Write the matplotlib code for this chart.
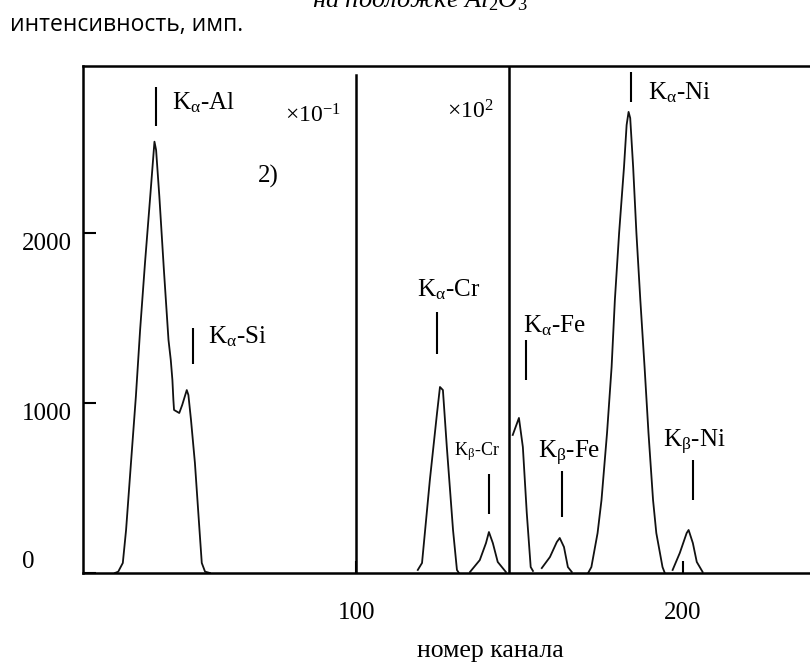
import matplotlib
matplotlib.use('Agg')
from matplotlib import pyplot as plt

plt.rcParams['font.family'] = ['Liberation Serif', 'DejaVu Serif']
plt.rcParams['mathtext.fontset'] = 'custom'
plt.rcParams['mathtext.rm'] = 'Liberation Serif'
plt.rcParams['mathtext.it'] = 'Liberation Serif:italic'

# spectrum (channel, counts in plotted units)
al_si_ch = [26.0, 27.0, 28.4, 29.4, 30.9, 32.4, 33.7, 35.2, 36.8, 38.1,
            38.6, 39.6, 41.0, 42.4, 43.1, 43.6, 43.9, 44.1, 45.7, 46.6,
            48.0, 48.5, 49.3, 50.5, 51.9, 52.6, 53.6, 55.1]
al_si_val = [0, 8, 59, 253, 647, 1037, 1429, 1824, 2214, 2537,
             2488, 2214, 1780, 1371, 1253, 1135, 1018, 959, 941, 988,
             1076, 1047, 900, 647, 253, 59, 8, 0]

cr_a_ch = [118.8, 120.1, 122.5, 124.7, 125.6, 126.5, 127.7, 129.6, 130.8, 131.4]
cr_a_val = [18, 59, 547, 941, 1094, 1076, 741, 253, 18, 0]

cr_b_ch = [134.8, 137.8, 139.7, 140.6, 141.8, 143.3, 145.8]
cr_b_val = [6, 76, 176, 241, 176, 65, 6]

fe_a_ch = [147.9, 149.8, 151.0, 152.2, 153.4, 154.1]
fe_a_val = [812, 912, 741, 353, 35, 12]

fe_b_ch = [156.8, 159.3, 161.4, 162.3, 163.6, 164.8, 166.0]
fe_b_val = [29, 94, 182, 206, 153, 35, 6]

ni_a_ch = [171.0, 172.0, 173.9, 175.1, 176.8, 178.2, 179.2, 180.5, 182.0,
           182.8, 183.4, 183.9, 184.8, 185.8, 187.0, 188.3, 189.5, 190.9,
           191.9, 193.8, 194.5]
ni_a_val = [0, 35, 235, 429, 824, 1212, 1606, 2000, 2388,
            2635, 2712, 2676, 2388, 2000, 1606, 1212, 824, 429,
            235, 35, 0]

ni_b_ch = [196.9, 199.1, 201.2, 201.8, 203.1, 204.3, 206.1]
ni_b_val = [18, 118, 235, 253, 176, 65, 6]

segments = [(al_si_ch, al_si_val), (cr_a_ch, cr_a_val), (cr_b_ch, cr_b_val),
            (fe_a_ch, fe_a_val), (fe_b_ch, fe_b_val), (ni_a_ch, ni_a_val),
            (ni_b_ch, ni_b_val)]

y_ticks = [0, 1000, 2000]
x_ticks = [100, 200]
dividers = [100, 146.7]

# peak labels: text, label x/y, marker x, marker y0/y1, font size
peak_labels = [
    (r'K$_{\mathrm{\alpha}}$-Al', 43.5, 2729, 38.6, 2629, 2859, 18),
    (r'K$_{\mathrm{\alpha}}$-Si', 54.5, 1353, 49.9, 1229, 1441, 18),
    (r'K$_{\mathrm{\alpha}}$-Cr', 118.5, 1624, 124.6, 1288, 1535, 18),
    (r'K$_{\mathrm{\beta}}$-Cr', 129.9, 694, 140.7, 347, 582, 13),
    (r'K$_{\mathrm{\alpha}}$-Fe', 151.1, 1418, 152.1, 1135, 1371, 18),
    (r'K$_{\mathrm{\beta}}$-Fe', 155.5, 676, 163.1, 329, 600, 18),
    (r'K$_{\mathrm{\alpha}}$-Ni', 189.3, 2788, 184.1, 2771, 2947, 18),
    (r'K$_{\mathrm{\beta}}$-Ni', 194.0, 741, 203.0, 429, 665, 18),
]

fig = plt.figure(figsize=(8.1, 6.62), dpi=100)
ax = fig.add_axes([83/810, 89/662, 727/810, 507/662])

for ch, val in segments:
    ax.plot(ch, val, color='#111111', lw=1.3)

ax.axvline(dividers[0], ymax=0.982, color='black', lw=1.8)
ax.axvline(dividers[1], color='black', lw=1.8)

for txt, lx, ly, mx, my0, my1, fs in peak_labels:
    ax.vlines(mx, my0, my1, color='black', lw=1.5)
    ax.text(lx, ly, txt, fontsize=fs, ha='left', va='baseline')

ax.text(78.1, 2647, r'×10$^{\mathrm{-1}}$', fontsize=17, va='baseline')
ax.text(127.7, 2671, r'×10$^{\mathrm{2}}$', fontsize=17, va='baseline')
ax.text(69.8, 2294, '2)', fontsize=18, va='baseline')

ax.set_xlim(16.2, 239)
ax.set_ylim(0, 2982)
ax.spines['right'].set_visible(False)
for s in ['left', 'top', 'bottom']:
    ax.spines[s].set_linewidth(1.8)

ax.set_xticks(x_ticks)
ax.set_xticklabels([str(t) for t in x_ticks])
ax.set_yticks(y_ticks)
ax.set_yticklabels([str(t) for t in y_ticks])
ax.tick_params(axis='x', direction='in', length=9, width=1.5, pad=21, labelsize=18)
ax.tick_params(axis='y', direction='in', length=9, width=1.5, pad=44, labelsize=18)
for lab in ax.get_yticklabels():
    lab.set_ha('left')
    lab.set_va('bottom' if lab.get_text() == '0' else 'top')

ax.set_xlabel('номер канала', fontsize=18.5)
ax.xaxis.set_label_coords(0.56, -0.133)

fig.text(10/810, 1 - 25/662, 'интенсивность, имп.', family='Open Sans',
         fontsize=16.5, va='center', ha='left')
fig.text(420/810, 1 - 7/662, r'на подложке Al$_{\mathrm{2}}$O$_{\mathrm{3}}$',
         fontsize=19, style='italic', ha='center', va='baseline')

plt.savefig('out.png', dpi=100)
